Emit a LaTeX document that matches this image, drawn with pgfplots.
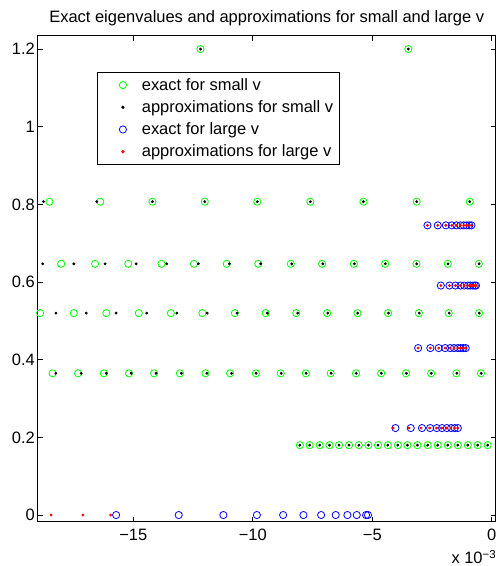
\documentclass[border=0pt]{standalone}
\usepackage{fontspec}
\setmainfont{Liberation Sans}
\usepackage{pgfplots}
\usepackage{pgfplotstable}
\pgfplotsset{compat=1.18}
\newcommand{\fs}{\fontsize{12.35}{14.8}\selectfont}

% x in units of 1e-3
\pgfplotstableread{
x y
-12.19 1.2
-3.49 1.2
-18.51 0.807
-16.38 0.807
-14.20 0.807
-12.01 0.807
-9.81 0.807
-7.59 0.807
-5.37 0.807
-3.14 0.807
-0.92 0.807
-18.02 0.647
-16.60 0.647
-15.21 0.647
-13.82 0.647
-12.46 0.647
-11.09 0.647
-9.77 0.647
-8.41 0.647
-7.10 0.647
-5.77 0.647
-4.46 0.647
-3.15 0.647
-1.84 0.647
-0.54 0.647
-18.90 0.520
-17.49 0.520
-16.13 0.520
-14.77 0.520
-13.43 0.520
-12.11 0.520
-10.75 0.520
-9.46 0.520
-8.18 0.520
-6.89 0.520
-5.62 0.520
-4.34 0.520
-3.05 0.520
-1.80 0.520
-0.53 0.520
-18.38 0.365
-17.31 0.365
-16.23 0.365
-15.18 0.365
-14.13 0.365
-13.05 0.365
-11.98 0.365
-10.95 0.365
-9.87 0.365
-8.83 0.365
-7.78 0.365
-6.74 0.365
-5.68 0.365
-4.63 0.365
-3.59 0.365
-2.54 0.365
-1.48 0.365
-0.45 0.365
-8.03 0.180
-7.62 0.180
-7.20 0.180
-6.79 0.180
-6.39 0.180
-5.97 0.180
-5.56 0.180
-5.16 0.180
-4.76 0.180
-4.35 0.180
-3.93 0.180
-3.53 0.180
-3.11 0.180
-2.68 0.180
-2.26 0.180
-1.84 0.180
-1.42 0.180
-1.00 0.180
-0.59 0.180
-0.17 0.180
}\exactsmall

\pgfplotstableread{
x y
-12.19 1.2
-3.49 1.2
-18.76 0.807
-16.53 0.807
-14.20 0.807
-12.01 0.807
-9.81 0.807
-7.59 0.807
-5.37 0.807
-3.14 0.807
-0.92 0.807
-18.79 0.647
-17.49 0.647
-16.18 0.647
-14.88 0.647
-13.60 0.647
-12.28 0.647
-10.98 0.647
-9.67 0.647
-8.37 0.647
-7.07 0.647
-5.75 0.647
-4.45 0.647
-3.14 0.647
-1.83 0.647
-0.53 0.647
-18.24 0.520
-16.97 0.520
-15.72 0.520
-14.44 0.520
-13.18 0.520
-11.91 0.520
-10.66 0.520
-9.39 0.520
-8.12 0.520
-6.86 0.520
-5.61 0.520
-4.32 0.520
-3.03 0.520
-1.78 0.520
-0.52 0.520
-18.24 0.365
-17.18 0.365
-16.13 0.365
-15.09 0.365
-14.05 0.365
-12.99 0.365
-11.92 0.365
-10.89 0.365
-9.86 0.365
-8.81 0.365
-7.77 0.365
-6.72 0.365
-5.67 0.365
-4.62 0.365
-3.57 0.365
-2.53 0.365
-1.46 0.365
-0.44 0.365
-8.03 0.180
-7.62 0.180
-7.20 0.180
-6.79 0.180
-6.39 0.180
-5.97 0.180
-5.56 0.180
-5.16 0.180
-4.76 0.180
-4.35 0.180
-3.93 0.180
-3.53 0.180
-3.11 0.180
-2.68 0.180
-2.26 0.180
-1.84 0.180
-1.42 0.180
-1.00 0.180
-0.59 0.180
-0.17 0.180
}\approxsmall

\pgfplotstableread{
x y
-15.72 0
-13.10 0
-11.23 0
-9.83 0
-8.73 0
-7.88 0
-7.14 0
-6.53 0
-6.04 0
-5.65 0
-5.26 0
-5.18 0
-4.03 0.224
-3.39 0.224
-2.92 0.224
-2.58 0.224
-2.30 0.224
-2.08 0.224
-1.88 0.224
-1.70 0.224
-1.55 0.224
-1.42 0.224
-3.08 0.430
-2.57 0.430
-2.22 0.430
-1.95 0.430
-1.74 0.430
-1.58 0.430
-1.42 0.430
-1.30 0.430
-1.19 0.430
-1.09 0.430
-2.13 0.591
-1.77 0.591
-1.52 0.591
-1.31 0.591
-1.15 0.591
-1.00 0.591
-0.90 0.591
-0.79 0.591
-0.71 0.591
-0.66 0.591
-2.69 0.746
-2.26 0.746
-1.92 0.746
-1.67 0.746
-1.48 0.746
-1.31 0.746
-1.17 0.746
-1.05 0.746
-0.94 0.746
-0.85 0.746
}\exactlarge

\pgfplotstableread{
x y
-18.44 0
-17.11 0
-15.95 0
-4.13 0.224
-3.46 0.224
-2.96 0.224
-2.60 0.224
-2.31 0.224
-2.09 0.224
-1.89 0.224
-1.71 0.224
-1.56 0.224
-1.43 0.224
-3.08 0.430
-2.57 0.430
-2.22 0.430
-1.95 0.430
-1.74 0.430
-1.58 0.430
-1.42 0.430
-1.30 0.430
-1.19 0.430
-1.09 0.430
-2.13 0.591
-1.77 0.591
-1.52 0.591
-1.31 0.591
-1.15 0.591
-1.00 0.591
-0.90 0.591
-0.79 0.591
-0.71 0.591
-0.66 0.591
-2.69 0.746
-2.26 0.746
-1.92 0.746
-1.67 0.746
-1.48 0.746
-1.31 0.746
-1.17 0.746
-1.05 0.746
-0.94 0.746
-0.85 0.746
}\approxlarge

\begin{document}
\begin{tikzpicture}
\begin{axis}[
    scale only axis,
    width=343.5pt, height=364.5pt,
    xmin=-19.0, xmax=0.167,
    ymin=-0.01725, ymax=1.2344,
    xtick={-15,-10,-5,0},
    xticklabels={−15,−10,−5,0},
    ytick={0,0.2,0.4,0.6,0.8,1,1.2},
    yticklabels={0,0.2,0.4,0.6,0.8,1,1.2},
    tick align=inside,
    major tick length=3.6pt,
    axis line style={line width=1.1pt},
    every tick/.style={black, line width=0.7pt},
    tick label style={font=\fs},
    yticklabel style={inner sep=2pt},
    xticklabel style={yshift=-2pt},
    title={Exact eigenvalues and approximations for small and large v},
    title style={font=\fs, anchor=base, yshift=3.75pt},
    legend cell align=left,
    legend image code/.code={
        \path[draw=none, fill=none] (0pt,0pt) -- (28.5pt,0pt);
        \draw[#1] plot coordinates {(16.3pt,0pt)};
    },
    legend style={at={(0.1288,0.9247)}, anchor=north west, font=\fs,
        draw=black, line width=0.7pt, row sep=2.2pt},
]
\addplot[only marks, mark=o, mark size=2.7pt, draw=green, line width=0.6pt]
    table[x=x, y=y] {\exactsmall};
\addlegendentry{exact for small v}
\addplot[only marks, mark=*, mark size=0.85pt, black]
    table[x=x, y=y] {\approxsmall};
\addlegendentry{approximations for small v}
\addplot[only marks, mark=o, mark size=2.7pt, draw=blue, line width=0.6pt]
    table[x=x, y=y] {\exactlarge};
\addlegendentry{exact for large v}
\addplot[only marks, mark=*, mark size=0.85pt, red]
    table[x=x, y=y] {\approxlarge};
\addlegendentry{approximations for large v}
\end{axis}
\node[anchor=base east, font=\fs, inner sep=0pt]
    at (344.25pt,-31.6pt) {x 10\textsuperscript{−3}};
\pgfresetboundingbox
\path[use as bounding box] (-28.3pt,-33.2pt) rectangle (345.2pt,391.3pt);
\end{tikzpicture}
\end{document}
